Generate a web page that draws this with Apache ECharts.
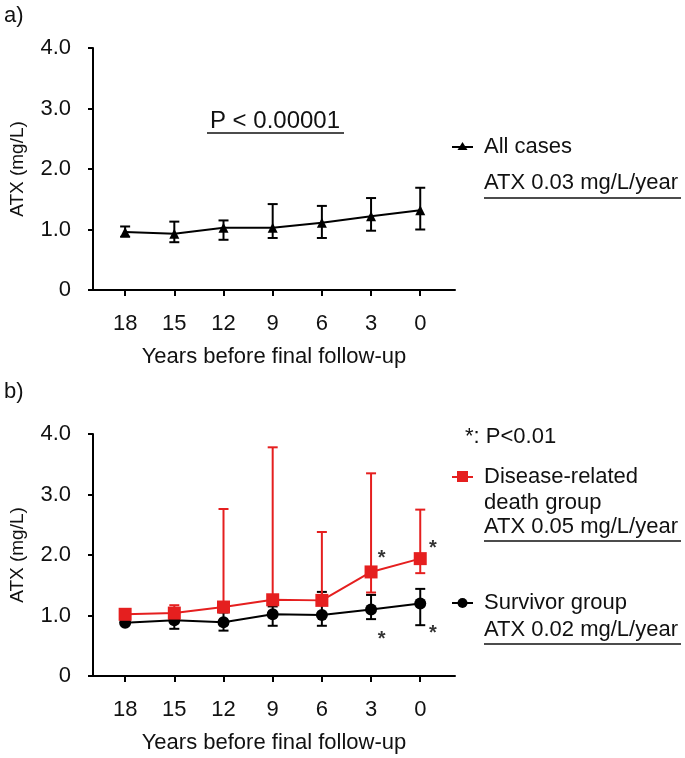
<!DOCTYPE html>
<html>
<head>
<meta charset="utf-8">
<script src="https://cdn.jsdelivr.net/npm/echarts@6/dist/echarts.min.js"></script>
<style>html,body{margin:0;padding:0;background:#fff}#c{width:685px;height:758px}</style>
</head>
<body>
<div id="c"></div>
<script>
const years = [18, 15, 12, 9, 6, 3, 0];
const yTicks = [0, 1, 2, 3, 4];
// a) All cases
const allMean = [0.96, 0.93, 1.03, 1.03, 1.11, 1.22, 1.32];
const allLow  = [0.88, 0.79, 0.83, 0.86, 0.86, 0.98, 1.00];
const allHigh = [1.05, 1.13, 1.15, 1.42, 1.39, 1.52, 1.69];
// b) Disease-related death group
const deathMean = [1.02, 1.04, 1.14, 1.26, 1.25, 1.72, 1.94];
const deathLow  = [0.99, 0.98, 1.08, 1.20, 1.18, 1.38, 1.70];
const deathHigh = [1.05, 1.17, 2.76, 3.78, 2.38, 3.35, 2.75];
// b) Survivor group
const survMean = [0.88, 0.92, 0.89, 1.02, 1.01, 1.10, 1.20];
const survLow  = [0.86, 0.78, 0.75, 0.83, 0.83, 0.94, 0.84];
const survHigh = [0.90, 1.00, 1.05, 1.15, 1.39, 1.34, 1.44];
// significance markers (x in years, y in mg/L)
const starX = [2.35, -0.77, 2.35, -0.77];
const starY = [1.94, 2.11, 0.60, 0.70];

const FONT = "'Liberation Sans', Arial, sans-serif";
const RED = '#e51f1f';
const BLACK = '#000';

function xAxisCfg(gi) {
  return {
    gridIndex: gi, type: 'value', inverse: true, min: -2.12, max: 19.96,
    axisLine: {onZero: false, lineStyle: {color: BLACK, width: 2}},
    axisTick: {show: true, customValues: years, length: 6, lineStyle: {color: BLACK, width: 2}},
    axisLabel: {customValues: years, color: '#111', fontSize: 22, fontFamily: FONT, margin: 23},
    splitLine: {show: false},
    name: 'Years before final follow-up', nameLocation: 'middle', nameGap: 56,
    nameTextStyle: {color: '#111', fontSize: 22, fontFamily: FONT}
  };
}
function yAxisCfg(gi) {
  return {
    gridIndex: gi, type: 'value', min: 0, max: 4, interval: 1,
    axisLine: {show: true, onZero: false, lineStyle: {color: BLACK, width: 2}},
    axisTick: {show: true, length: 5, lineStyle: {color: BLACK, width: 2}},
    axisLabel: {color: '#111', fontSize: 22, fontFamily: FONT, margin: 22,
      formatter: v => v === 0 ? '0' : v.toFixed(1)},
    splitLine: {show: false},
    name: 'ATX (mg/L)', nameLocation: 'middle', nameGap: 66, nameRotate: 90,
    nameTextStyle: {color: '#111', fontSize: 19, fontFamily: FONT}
  };
}
function errSeries(gi, low, high, color) {
  return {
    type: 'custom', xAxisIndex: gi, yAxisIndex: gi, z: 2,
    data: years.map((y, i) => [y, low[i], high[i]]),
    encode: {x: 0, y: [1, 2]},
    renderItem: function (params, api) {
      const x = api.value(0);
      const p1 = api.coord([x, api.value(1)]);
      const p2 = api.coord([x, api.value(2)]);
      const w = 5;
      const st = {stroke: color, lineWidth: 2};
      return {type: 'group', children: [
        {type: 'line', shape: {x1: p1[0], y1: p1[1], x2: p2[0], y2: p2[1]}, style: st},
        {type: 'line', shape: {x1: p1[0] - w, y1: p1[1], x2: p1[0] + w, y2: p1[1]}, style: st},
        {type: 'line', shape: {x1: p2[0] - w, y1: p2[1], x2: p2[0] + w, y2: p2[1]}, style: st}
      ]};
    }
  };
}
function lineSeries(gi, vals, color, symbol, size) {
  return {
    type: 'line', xAxisIndex: gi, yAxisIndex: gi, z: 3,
    data: years.map((y, i) => [y, vals[i]]),
    symbol: symbol, symbolSize: size, showSymbol: true,
    lineStyle: {color: color, width: 2}, itemStyle: {color: color},
    animation: false
  };
}

const txt = (x, y, text, size) => ({
  type: 'text', x: x, y: y,
  style: {text: text, fill: '#111', font: size + 'px ' + FONT, textVerticalAlign: 'middle'}
});
const uline = (x1, x2, y) => ({type: 'line', shape: {x1: x1, y1: y, x2: x2, y2: y}, style: {stroke: '#111', lineWidth: 1.5}});

const chart = echarts.init(document.getElementById('c'), null, {renderer: 'canvas'});
chart.setOption({
  animation: false,
  backgroundColor: '#fff',
  grid: [
    {left: 91, width: 364, top: 48, height: 242},
    {left: 91, width: 364, top: 434, height: 242}
  ],
  xAxis: [xAxisCfg(0), xAxisCfg(1)],
  yAxis: [yAxisCfg(0), yAxisCfg(1)],
  series: [
    errSeries(0, allLow, allHigh, BLACK),
    lineSeries(0, allMean, BLACK, 'triangle', 10),
    errSeries(1, survLow, survHigh, BLACK),
    errSeries(1, deathLow, deathHigh, RED),
    lineSeries(1, survMean, BLACK, 'circle', 12),
    lineSeries(1, deathMean, RED, 'rect', 13),
    {
      type: 'scatter', xAxisIndex: 1, yAxisIndex: 1, symbolSize: 0, z: 5,
      data: starX.map((x, i) => [x, starY[i]]),
      label: {show: true, formatter: '*', color: '#000', fontSize: 20, fontWeight: 'bold', fontFamily: FONT, position: 'inside'}
    }
  ],
  graphic: [
    txt(4, 16, 'a)', 22),
    txt(4, 392, 'b)', 22),
    {type: 'text', x: 275, y: 121, style: {text: 'P < 0.00001', fill: '#111', font: '24px ' + FONT, textAlign: 'center', textVerticalAlign: 'middle'}},
    uline(207, 344, 133),
    // legend a)
    {type: 'line', shape: {x1: 452, y1: 147, x2: 473, y2: 147}, style: {stroke: BLACK, lineWidth: 2}},
    {type: 'polygon', shape: {points: [[462.5, 142], [457.5, 150], [467.5, 150]]}, style: {fill: BLACK}},
    txt(484, 147, 'All cases', 22),
    txt(484, 183, 'ATX 0.03 mg/L/year', 22),
    uline(484, 681, 198),
    // legend b)
    txt(465, 437, '*: P<0.01', 22),
    {type: 'line', shape: {x1: 452, y1: 477, x2: 473, y2: 477}, style: {stroke: RED, lineWidth: 2}},
    {type: 'rect', shape: {x: 457, y: 471, width: 11, height: 11}, style: {fill: RED}},
    txt(484, 477, 'Disease-related', 22),
    txt(484, 503, 'death group', 22),
    txt(484, 527, 'ATX 0.05 mg/L/year', 22),
    uline(484, 681, 541),
    {type: 'line', shape: {x1: 452, y1: 603, x2: 473, y2: 603}, style: {stroke: BLACK, lineWidth: 2}},
    {type: 'circle', shape: {cx: 462.5, cy: 603, r: 5}, style: {fill: BLACK}},
    txt(484, 603, 'Survivor group', 22),
    txt(484, 630, 'ATX 0.02 mg/L/year', 22),
    uline(484, 681, 644)
  ]
});
</script>
</body>
</html>
